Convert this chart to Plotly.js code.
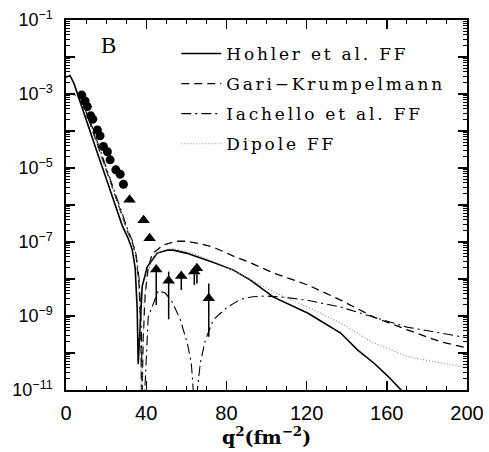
<!DOCTYPE html>
<html>
<head>
<meta charset="utf-8">
<script src="https://cdn.plot.ly/plotly-3.0.1.min.js"></script>
<style>
  html, body { margin: 0; padding: 0; background: #fff; }
  #chart { width: 489px; height: 452px; }
</style>
</head>
<body>
<div id="chart"></div>
<script>
// ---- Data (curve values stored as log10) ----
const hohlerQ2  = [0, 2, 4, 8, 12, 16, 20, 24, 28, 31, 33, 34.5, 35.5, 36, 37, 38, 40.5, 45.5, 50.5, 53.5, 60, 67, 75, 83.5, 92, 103.5, 120.5, 137, 145.5, 153.5, 161, 168.5];
const hohlerLog = [-2.55, -2.50, -2.72, -3.38, -4.03, -4.65, -5.28, -5.92, -6.55, -6.9, -7.2, -7.7, -8.8, -10.3, -9.1, -8.2, -7.68, -7.30, -7.22, -7.22, -7.30, -7.43, -7.58, -7.76, -8.03, -8.49, -8.92, -9.46, -9.92, -10.27, -10.65, -11.08];

const gariQ2  = [0, 3, 6, 8, 12, 16, 20, 24, 28, 31, 33, 35, 36.5, 37.3, 37.8, 38.5, 39.5, 41, 43, 48.5, 55, 60.5, 67, 73.5, 83.5, 92, 103.5, 120.5, 137, 153.5, 170.5, 187, 200];
const gariLog = [-3.0, -3.0, -3.05, -3.15, -3.80, -4.42, -5.05, -5.68, -6.32, -6.75, -7.0, -7.4, -8.2, -9.5, -11.5, -9.6, -8.4, -7.7, -7.32, -7.08, -6.98, -6.98, -7.05, -7.14, -7.38, -7.56, -7.84, -8.16, -8.57, -9.03, -9.38, -9.70, -9.86];

const iachQ2  = [0, 3, 6, 8, 12, 16, 20, 24, 28, 31, 33, 35, 36.5, 37.5, 38.3, 39.5, 41, 43.5, 46, 49.5, 53, 57, 60.5, 62.5, 63.5, 64.5, 65.5, 67, 69.5, 73.5, 80.5, 87, 93, 100, 110, 120, 137, 153, 170, 187, 200];
const iachLog = [-3.0, -3.0, -3.05, -3.1, -3.72, -4.35, -4.98, -5.6, -6.22, -6.7, -6.95, -7.35, -8.0, -9.3, -11.5, -10.8, -9.03, -8.65, -8.32, -8.38, -8.62, -9.1, -9.73, -10.27, -11.0, -11.8, -11.0, -10.27, -9.65, -9.1, -8.76, -8.55, -8.48, -8.46, -8.5, -8.57, -8.76, -9.03, -9.3, -9.46, -9.59];

const dipoleQ2  = [0, 3, 6, 8, 12, 16, 20, 24, 28, 31, 33, 35, 36.5, 37.2, 37.6, 38.2, 39, 40.5, 43, 47, 52, 56, 63, 70, 80, 90, 103.5, 120.5, 137, 153.5, 170.5, 187, 200];
const dipoleLog = [-3.0, -3.0, -3.05, -3.15, -3.80, -4.42, -5.05, -5.68, -6.32, -6.75, -7.0, -7.4, -8.4, -10.0, -11.5, -10.0, -8.6, -7.9, -7.42, -7.25, -7.18, -7.2, -7.3, -7.45, -7.68, -7.95, -8.35, -8.76, -9.19, -9.73, -10.1, -10.27, -10.4];

const circleQ2  = [7.85, 9.5, 10.65, 12.35, 13.35, 15.65, 17, 18.65, 20.65, 22, 24.85, 27, 28.65];
const circleLog = [-3.03, -3.19, -3.34, -3.59, -3.68, -3.97, -4.13, -4.42, -4.56, -4.78, -5.05, -5.17, -5.44];

const triQ2  = [31.7, 38.7, 41.7];
const triLog = [-5.86, -6.41, -6.90];

const barTriQ2    = [45, 51.2, 57.5, 64, 65.3, 71.2];
const barTriLog   = [-7.74, -8.05, -7.92, -7.80, -7.71, -8.52];
const barTriHiLog = [-7.74, -7.80, -7.92, -7.80, -7.71, -8.12];
const barTriLoLog = [-8.70, -9.09, -8.30, -8.16, -8.12, -9.56];

const seriesNames = ["Hohler et al. FF", "Gari\u2212Krumpelmann", "Iachello et al. FF", "Dipole FF"];
const xTickVals = [0, 40, 80, 120, 160, 200];
const yLabelExps = [-11, -9, -7, -5, -3, -1];     // labelled decades
const yPlainExps = [-10, -8, -6, -4, -2];         // unlabelled decade ticks

// ---- helpers ----
const lin = a => a.map(v => Math.pow(10, v));

const barY  = lin(barTriLog);
const barHi = lin(barTriHiLog);
const barLo = lin(barTriLoLog);

const traces = [
  { x: hohlerQ2, y: lin(hohlerLog), name: seriesNames[0], mode: 'lines', legendgroup: 'a',
    line: { color: '#000', width: 1.6 } },
  { x: gariQ2, y: lin(gariLog), name: seriesNames[1], mode: 'lines', legendgroup: 'b',
    line: { color: '#000', width: 1.3, dash: '8px,5px' } },
  { x: iachQ2, y: lin(iachLog), name: seriesNames[2], mode: 'lines', legendgroup: 'c',
    line: { color: '#000', width: 1.1, dash: '10px,4px,2px,4px' } },
  { x: dipoleQ2, y: lin(dipoleLog), name: seriesNames[3], mode: 'lines', legendgroup: 'd',
    line: { color: '#8a8a8a', width: 1.1, dash: '1px,2px' } },
  { x: circleQ2, y: lin(circleLog), mode: 'markers', showlegend: false,
    marker: { symbol: 'circle', size: 9, color: '#000' } },
  { x: triQ2, y: lin(triLog), mode: 'markers', showlegend: false,
    marker: { symbol: 'triangle-up', size: 11, color: '#000' } },
  { x: barTriQ2, y: barY, mode: 'markers', showlegend: false,
    marker: { symbol: 'triangle-up', size: 11, color: '#000' },
    error_y: { type: 'data', symmetric: false,
      array: barHi.map((h, i) => h - barY[i]),
      arrayminus: barLo.map((l, i) => barY[i] - l),
      color: '#000', thickness: 1.5, width: 0 } },
  // invisible trace so the unlabelled decade-tick axis is drawn
  { x: [0], y: [1e-1], yaxis: 'y2', mode: 'markers', showlegend: false, hoverinfo: 'skip',
    marker: { size: 1, opacity: 0 } }
];

const layout = {
  width: 489, height: 452,
  margin: { l: 66, r: 22, t: 20, b: 62 },
  paper_bgcolor: '#fff', plot_bgcolor: '#fff',
  showlegend: true,
  legend: {
    x: 0.275, xanchor: 'left', y: 0.957, yanchor: 'top',
    bgcolor: 'rgba(0,0,0,0)', borderwidth: 0,
    font: { family: 'DejaVu Serif', size: 17, color: '#000' },
    tracegroupgap: 5, itemwidth: 40
  },
  xaxis: {
    range: [0, 200], tickmode: 'array', tickvals: xTickVals,
    ticks: 'inside', ticklen: 9, tickwidth: 1.4, tickcolor: '#000',
    minor: { dtick: 10, tick0: 0, ticks: 'inside', ticklen: 4, tickwidth: 1, tickcolor: '#000' },
    showline: true, linecolor: '#000', linewidth: 1.6, mirror: 'ticks',
    showgrid: false, zeroline: false,
    tickfont: { family: 'Liberation Sans', size: 20, color: '#000' },
    ticklabelstandoff: 4,
    title: { text: 'q<sup>2</sup>(fm<sup>\u22122</sup>)', standoff: 8,
      font: { family: 'DejaVu Serif', size: 19, weight: 'bold', color: '#000' } }
  },
  yaxis: {
    type: 'log', range: [-11, -1], tickmode: 'array',
    tickvals: lin(yLabelExps),
    ticktext: yLabelExps.map(e => '10<sup>\u2212' + (-e) + '</sup>'),
    ticks: 'inside', ticklen: 9, tickwidth: 1.4, tickcolor: '#000',
    minor: { dtick: 'D1', ticks: 'inside', ticklen: 4, tickwidth: 1, tickcolor: '#000' },
    showline: true, linecolor: '#000', linewidth: 1.6, mirror: 'ticks',
    showgrid: false, zeroline: false,
    tickfont: { family: 'Liberation Sans', size: 18, color: '#000' },
    ticklabelstandoff: 8
  },
  yaxis2: {
    type: 'log', range: [-11, -1], overlaying: 'y', side: 'left', tickmode: 'array',
    tickvals: lin(yPlainExps), showticklabels: false,
    ticks: 'inside', ticklen: 9, tickwidth: 1.4, tickcolor: '#000',
    showline: false, mirror: 'ticks', showgrid: false, zeroline: false
  },
  annotations: [
    { text: 'B', xref: 'paper', yref: 'paper', x: 0.105, y: 0.932,
      xanchor: 'center', yanchor: 'middle', showarrow: false,
      font: { family: 'Liberation Serif', size: 23, color: '#000' } }
  ]
};

Plotly.newPlot('chart', traces, layout, { staticPlot: true, displayModeBar: false }).then(() => {
  document.querySelectorAll('.legend [clip-path]').forEach(e => e.removeAttribute('clip-path'));
  document.querySelectorAll('.legendtext').forEach(t => { t.style.letterSpacing = '2.8px'; });
});
</script>
</body>
</html>
